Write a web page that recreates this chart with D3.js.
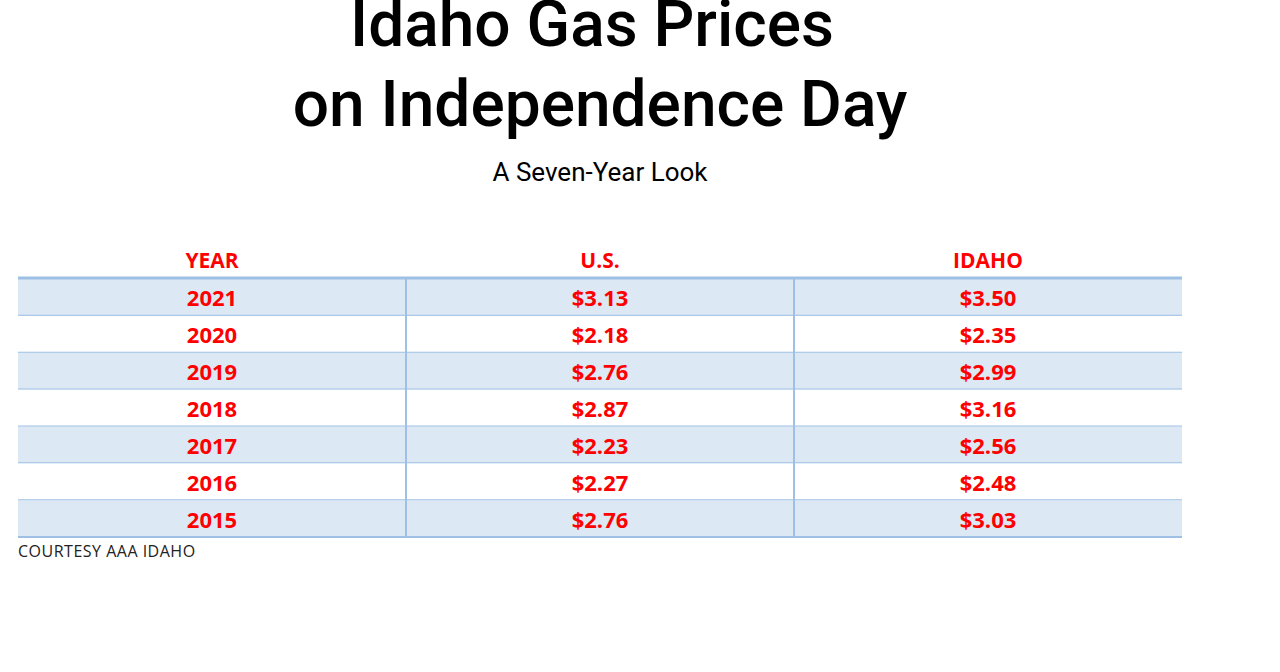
<!DOCTYPE html>
<html><head><meta charset="utf-8">
<script src="https://cdn.jsdelivr.net/npm/d3@7"></script>
<style>body{margin:0;background:#fff}</style>
</head><body><div id="chart"></div>
<script>
var columns = ["YEAR", "U.S.", "IDAHO"];
var years = ["2021", "2020", "2019", "2018", "2017", "2016", "2015"];
var usPrices = [3.13, 2.18, 2.76, 2.87, 2.23, 2.27, 2.76];
var idahoPrices = [3.50, 2.35, 2.99, 3.16, 2.56, 2.48, 3.03];

var width = 1280, height = 672;
var svg = d3.select("#chart").append("svg").attr("width", width).attr("height", height);

// titles
svg.append("text").attr("x", 592).attr("y", 46).attr("text-anchor", "middle")
  .style("font-family", "Roboto").style("font-size", "64px").style("font-weight", 500)
  .text("Idaho Gas Prices");
svg.append("text").attr("x", 600).attr("y", 126).attr("text-anchor", "middle")
  .style("font-family", "Roboto").style("font-size", "64px").style("font-weight", 500)
  .text("on Independence Day");
svg.append("text").attr("x", 600).attr("y", 181).attr("text-anchor", "middle")
  .style("font-family", "Roboto").style("font-size", "26px")
  .text("A Seven-Year Look");

var x = d3.scaleBand().domain(columns).range([18, 1182]);
var y = d3.scaleBand().domain(years).range([279, 537]);
var fmt = d3.format("$.2f");
var rows = years.map(function(yr, i) { return [yr, fmt(usPrices[i]), fmt(idahoPrices[i])]; });

var font = "'Open Sans', sans-serif";
svg.selectAll(".head").data(columns).enter().append("text")
  .attr("x", function(d) { return x(d) + x.bandwidth() / 2; }).attr("y", 268)
  .attr("text-anchor", "middle").style("font-family", font).style("font-weight", 700)
  .style("font-size", "21px").style("fill", "#ff0000").text(function(d) { return d; });

var row = svg.selectAll(".row").data(rows).enter().append("g")
  .attr("transform", function(d) { return "translate(0," + y(d[0]) + ")"; });
row.append("rect").attr("x", 18).attr("width", 1164).attr("height", y.bandwidth())
  .style("fill", function(d, i) { return i % 2 === 0 ? "#dde8f5" : "#fff"; });
row.append("line").attr("x1", 18).attr("x2", 1182)
  .attr("y1", y.bandwidth()).attr("y2", y.bandwidth())
  .style("stroke", "#9dc0e4").style("stroke-width", 2);
row.selectAll("text").data(function(d) { return d; }).enter().append("text")
  .attr("x", function(d, i) { return x(columns[i]) + x.bandwidth() / 2; })
  .attr("y", y.bandwidth() / 2 + 9).attr("text-anchor", "middle")
  .style("font-family", font).style("font-weight", 700).style("font-size", "22px")
  .style("fill", "#ff0000").text(function(d) { return d; });

// header rule and column dividers
svg.append("line").attr("x1", 18).attr("x2", 1182).attr("y1", 278).attr("y2", 278)
  .style("stroke", "#9dc0e4").style("stroke-width", 3);
svg.selectAll(".div").data(columns.slice(1)).enter().append("line")
  .attr("x1", function(d) { return x(d); }).attr("x2", function(d) { return x(d); })
  .attr("y1", 279).attr("y2", 537).style("stroke", "#9dc0e4").style("stroke-width", 2);

svg.append("text").attr("x", 18).attr("y", 557).style("font-family", font)
  .style("font-size", "16px").style("letter-spacing", "0.5px").style("fill", "#222")
  .text("COURTESY AAA IDAHO");
</script>
</body></html>
